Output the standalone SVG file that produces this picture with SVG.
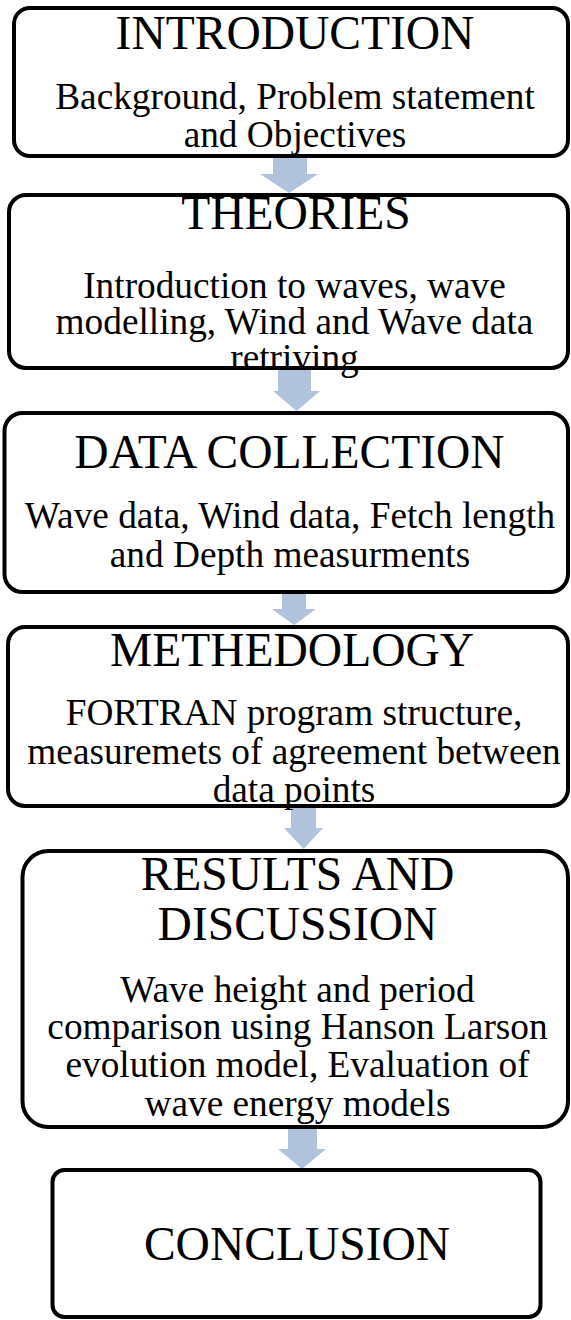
<svg xmlns="http://www.w3.org/2000/svg" width="571" height="1320" viewBox="0 0 571 1320">
<style>
.box{fill:#fff;stroke:#000;stroke-width:4}
.arr{fill:#B1C2DD;stroke:none}
.t{font-family:"Liberation Serif","Times New Roman",serif;font-size:47.5px;fill:#000;text-anchor:middle}
.b{font-family:"Liberation Serif","Times New Roman",serif;font-size:37.3px;fill:#000;text-anchor:middle}
</style>
<rect width="571" height="1320" fill="#fff"/>
<g id="connectors">
<polygon class="arr" points="273,156 307,156 307,174 318,174 289,193 260,174 273,174"/>
<polygon class="arr" points="278,368 311,368 311,391 320,391 296.5,411 273,391 278,391"/>
<polygon class="arr" points="282,592 306,592 306,609 316,609 294,625 272,609 282,609"/>
<polygon class="arr" points="291,806 316,806 316,828 323,828 303.5,849 284,828 291,828"/>
<polygon class="arr" points="288,1127 317,1127 317,1149 326,1149 302,1169 278,1149 288,1149"/>
</g>
<g id="node-introduction">
<rect class="box" x="14" y="8" width="554" height="148" rx="16"/>
<text class="t" x="295" y="49">INTRODUCTION</text>
<text class="b" x="295" y="109">Background, Problem statement</text>
<text class="b" x="295" y="147">and Objectives</text>
</g>
<g id="node-theories">
<rect class="box" x="9" y="195" width="559" height="173" rx="17"/>
<text class="t" x="296" y="229">THEORIES</text>
<text class="b" x="294.5" y="298">Introduction to waves, wave</text>
<text class="b" x="294.5" y="334">modelling, Wind and Wave data</text>
<text class="b" x="294.5" y="370">retriving</text>
</g>
<g id="node-data-collection">
<rect class="box" x="4.5" y="413" width="563.5" height="179" rx="18"/>
<text class="t" x="289.5" y="468">DATA COLLECTION</text>
<text class="b" x="290" y="528">Wave data, Wind data, Fetch length</text>
<text class="b" x="290" y="567">and Depth measurments</text>
</g>
<g id="node-methodology">
<rect class="box" x="8" y="627" width="560" height="179" rx="17"/>
<text class="t" x="292" y="666">METHEDOLOGY</text>
<text class="b" x="294" y="725">FORTRAN program structure,</text>
<text class="b" x="294" y="764">measuremets of agreement between</text>
<text class="b" x="294" y="802">data points</text>
</g>
<g id="node-results">
<rect class="box" x="22.5" y="851" width="545.5" height="276" rx="26"/>
<text class="t" x="297.5" y="890">RESULTS AND</text>
<text class="t" x="297.5" y="940">DISCUSSION</text>
<text class="b" x="297.5" y="1002">Wave height and period</text>
<text class="b" x="297.5" y="1039">comparison using Hanson Larson</text>
<text class="b" x="297.5" y="1077">evolution model, Evaluation of</text>
<text class="b" x="297.5" y="1116">wave energy models</text>
</g>
<g id="node-conclusion">
<rect class="box" x="52.5" y="1170" width="488" height="147" rx="12"/>
<text class="t" x="297" y="1260">CONCLUSION</text>
</g>
</svg>
